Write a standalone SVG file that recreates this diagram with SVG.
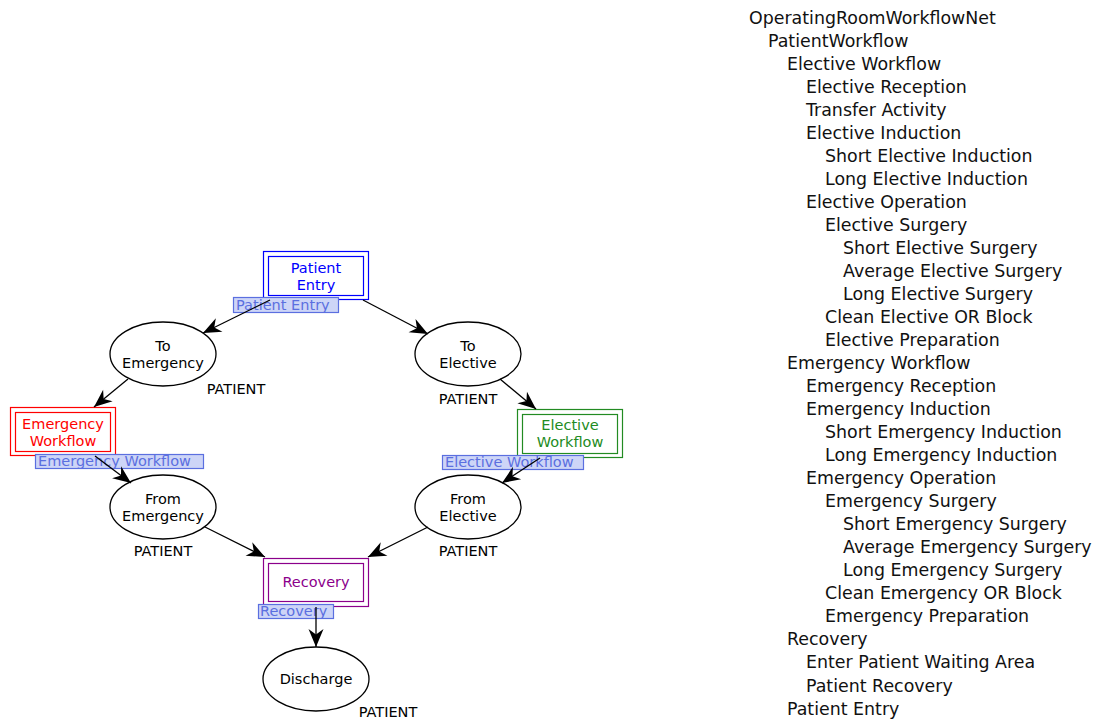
<svg xmlns="http://www.w3.org/2000/svg" width="1094" height="719" viewBox="0 0 1094 719">
<style>
text{font-family:"DejaVu Sans","Liberation Sans",sans-serif}
.d{font-size:14.5px;text-anchor:middle}
.tree{font-size:17.4px;fill:#111}
.pl{fill:#fff;stroke:#000;stroke-width:1.3}
.lb{fill:#cdd5f7;stroke:#5b6fe0;stroke-width:1.2}
.lt{font-size:14.5px;fill:#5b6fe0}
.c{stroke:#000;stroke-width:1.3;fill:none;marker-end:url(#ah)}
</style>
<defs>
<marker id="ah" markerUnits="userSpaceOnUse" markerWidth="22" markerHeight="18" refX="19" refY="9" orient="auto" viewBox="0 0 22 18">
<path d="M19,9 L1,1.5 L6.5,9 L1,16.5 Z" fill="#000"/>
</marker>
</defs>
<rect width="1094" height="719" fill="#fff"/>

<g id="n-patient-entry">
<rect x="263.5" y="251.5" width="105" height="48" fill="#fff" stroke="#0000ff" stroke-width="1.2"/>
<rect x="268.5" y="256.5" width="95" height="39" fill="none" stroke="#0000ff" stroke-width="1.2"/>
<text class="d" x="316" y="273" fill="#0000ff">Patient</text>
<text class="d" x="316" y="290" fill="#0000ff">Entry</text>
</g>
<g id="n-to-emergency">
<ellipse class="pl" cx="163" cy="354" rx="53" ry="32"/>
<text class="d" x="163" y="351">To</text>
<text class="d" x="163" y="368">Emergency</text>
<text class="d" x="236" y="394">PATIENT</text>
</g>
<g id="n-to-elective">
<ellipse class="pl" cx="468" cy="354" rx="53" ry="32"/>
<text class="d" x="468" y="351">To</text>
<text class="d" x="468" y="368">Elective</text>
<text class="d" x="468" y="404">PATIENT</text>
</g>
<g id="n-emergency-workflow">
<rect x="10.5" y="407.5" width="105" height="48" fill="#fff" stroke="#ff0000" stroke-width="1.2"/>
<rect x="15.5" y="412.5" width="95" height="39" fill="none" stroke="#ff0000" stroke-width="1.2"/>
<text class="d" x="63" y="429" fill="#ff0000">Emergency</text>
<text class="d" x="63" y="446" fill="#ff0000">Workflow</text>
</g>
<g id="n-elective-workflow">
<rect x="517.5" y="409.5" width="105" height="48" fill="#fff" stroke="#228b22" stroke-width="1.2"/>
<rect x="522.5" y="414.5" width="95" height="39" fill="none" stroke="#228b22" stroke-width="1.2"/>
<text class="d" x="570" y="430" fill="#228b22">Elective</text>
<text class="d" x="570" y="447" fill="#228b22">Workflow</text>
</g>
<g id="n-from-emergency">
<ellipse class="pl" cx="163" cy="507" rx="53" ry="32"/>
<text class="d" x="163" y="504">From</text>
<text class="d" x="163" y="521">Emergency</text>
<text class="d" x="163" y="556">PATIENT</text>
</g>
<g id="n-from-elective">
<ellipse class="pl" cx="468" cy="507" rx="53" ry="32"/>
<text class="d" x="468" y="504">From</text>
<text class="d" x="468" y="521">Elective</text>
<text class="d" x="468" y="556">PATIENT</text>
</g>
<g id="n-recovery">
<rect x="263.5" y="558.5" width="105" height="48" fill="#fff" stroke="#8b008b" stroke-width="1.2"/>
<rect x="268.5" y="563.5" width="95" height="38" fill="none" stroke="#8b008b" stroke-width="1.2"/>
<text class="d" x="316" y="587" fill="#8b008b">Recovery</text>
</g>
<g id="n-discharge">
<ellipse class="pl" cx="316" cy="679" rx="53" ry="32"/>
<text class="d" x="316" y="684">Discharge</text>
<text class="d" x="388" y="717">PATIENT</text>
</g>

<g id="labels">
<rect class="lb" x="233.5" y="297.5" width="105" height="15"/>
<text class="lt" x="236" y="310">Patient Entry</text>
<rect class="lb" x="35.5" y="454.5" width="168" height="14"/>
<text class="lt" x="38" y="466">Emergency Workflow</text>
<rect class="lb" x="442.5" y="455.5" width="141" height="14"/>
<text class="lt" x="445" y="467">Elective Workflow</text>
<rect class="lb" x="258.5" y="604.5" width="75" height="14"/>
<text class="lt" x="260" y="616">Recovery</text>
</g>

<g id="connectors">
<line class="c" x1="270" y1="300" x2="203" y2="333"/>
<line class="c" x1="363" y1="300" x2="428" y2="334"/>
<line class="c" x1="128" y1="379" x2="94" y2="407"/>
<line class="c" x1="500" y1="379" x2="536" y2="409"/>
<line class="c" x1="95" y1="456" x2="131" y2="483"/>
<line class="c" x1="540" y1="458" x2="502" y2="483"/>
<line class="c" x1="205" y1="527" x2="265" y2="557"/>
<line class="c" x1="428" y1="527" x2="368" y2="557"/>
<line class="c" x1="316" y1="607" x2="316" y2="647"/>
</g>

<g id="tree" class="tree">
<text x="749" y="24">OperatingRoomWorkflowNet</text>
<text x="768" y="47">PatientWorkflow</text>
<text x="787" y="70">Elective Workflow</text>
<text x="806" y="93">Elective Reception</text>
<text x="806" y="116">Transfer Activity</text>
<text x="806" y="139">Elective Induction</text>
<text x="825" y="162">Short Elective Induction</text>
<text x="825" y="185">Long Elective Induction</text>
<text x="806" y="208">Elective Operation</text>
<text x="825" y="231">Elective Surgery</text>
<text x="843" y="254">Short Elective Surgery</text>
<text x="843" y="277">Average Elective Surgery</text>
<text x="843" y="300">Long Elective Surgery</text>
<text x="825" y="323">Clean Elective OR Block</text>
<text x="825" y="346">Elective Preparation</text>
<text x="787" y="369">Emergency Workflow</text>
<text x="806" y="392">Emergency Reception</text>
<text x="806" y="415">Emergency Induction</text>
<text x="825" y="438">Short Emergency Induction</text>
<text x="825" y="461">Long Emergency Induction</text>
<text x="806" y="484">Emergency Operation</text>
<text x="825" y="507">Emergency Surgery</text>
<text x="843" y="530">Short Emergency Surgery</text>
<text x="843" y="553">Average Emergency Surgery</text>
<text x="843" y="576">Long Emergency Surgery</text>
<text x="825" y="599">Clean Emergency OR Block</text>
<text x="825" y="622">Emergency Preparation</text>
<text x="787" y="645">Recovery</text>
<text x="806" y="668">Enter Patient Waiting Area</text>
<text x="806" y="692">Patient Recovery</text>
<text x="787" y="715">Patient Entry</text>
</g>
</svg>
